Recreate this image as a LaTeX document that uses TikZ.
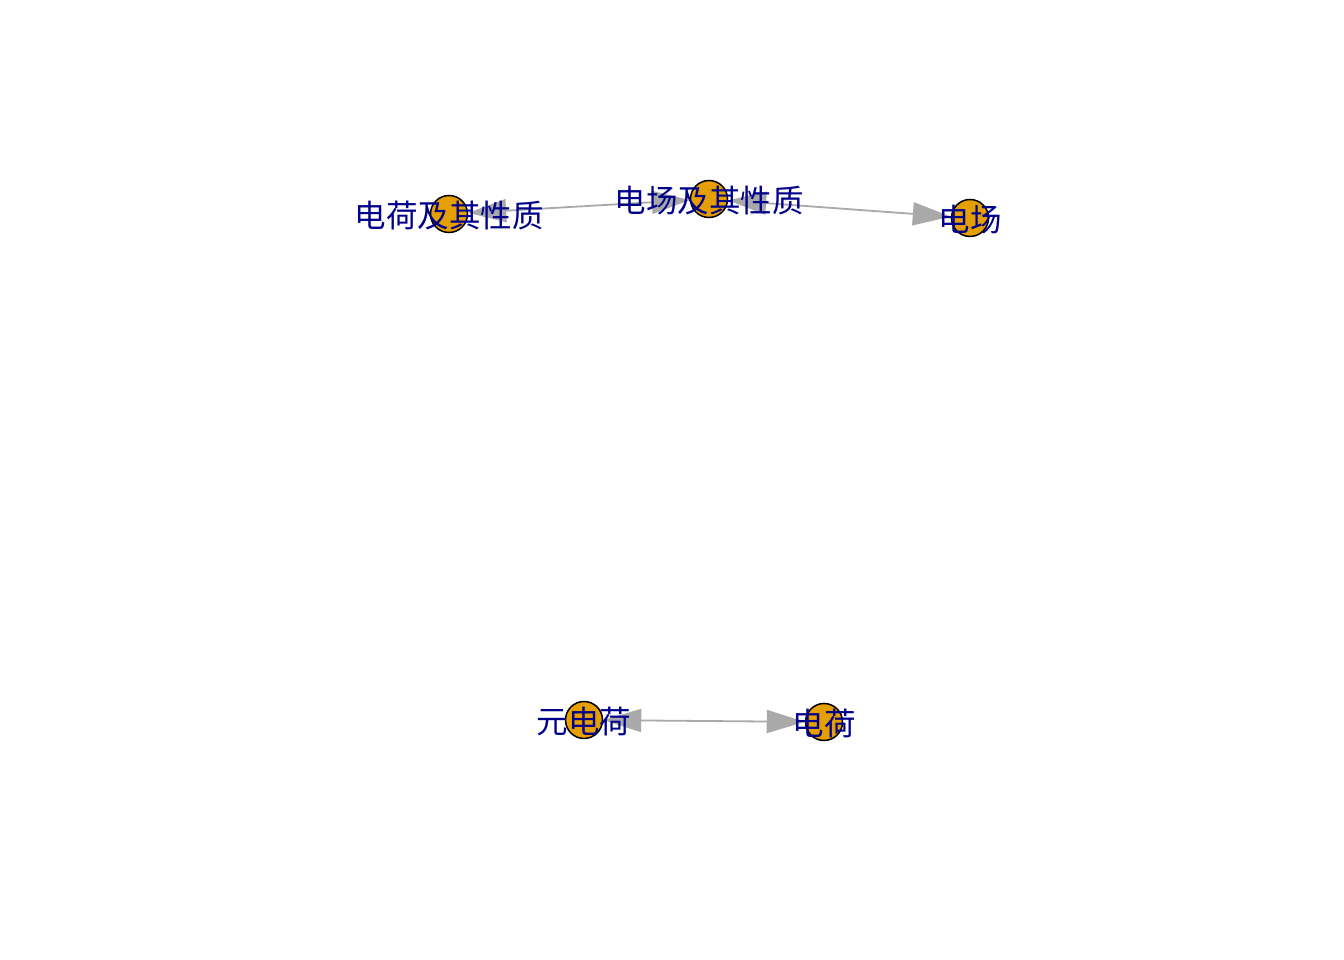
\documentclass[tikz,border=0pt]{standalone}
\usepackage{fontspec}
\newfontfamily\cjk{Noto Sans CJK SC}
\usetikzlibrary{arrows.meta}
\definecolor{vfill}{HTML}{E69F00}
\definecolor{edgegray}{HTML}{A9A9A9}
\definecolor{labblue}{HTML}{00008B}
\tikzset{
  vert/.style={circle, draw=black, line width=1.5pt, fill=vfill, minimum size=37pt, inner sep=0pt},
  lab/.style={text=labblue, font=\cjk\fontsize{31.5pt}{31.5pt}\selectfont, inner sep=0pt, yshift=-2pt},
  edge/.style={draw=edgegray, line width=1.8pt,
    {Triangle[length=38pt,width=23pt]}-{Triangle[length=38pt,width=23pt]}}
}
\begin{document}
\begin{tikzpicture}[x=1pt,y=1pt]
\useasboundingbox (0,0) rectangle (1344,960);
\fill[white] (0,0) rectangle (1344,960);
\node[vert] (dhq) at (449,746) {};
\node[vert] (dcq) at (709,761) {};
\node[vert] (dc) at (970,742) {};
\node[vert] (ydh) at (584,240) {};
\node[vert] (dh) at (824,238) {};
\draw[edge] (dhq) -- (dcq);
\draw[edge] (dcq) -- (dc);
\draw[edge] (ydh) -- (dh);
\node[lab] (l1) at (dhq) {电荷及其性质};
\node[lab] (l2) at (dcq) {电场及其性质};
\node[lab] (l3) at (dc) {电场};
\node[lab] (l4) at (ydh) {元电荷};
\node[lab] (l5) at (dh) {电荷};
\end{tikzpicture}
\end{document}
